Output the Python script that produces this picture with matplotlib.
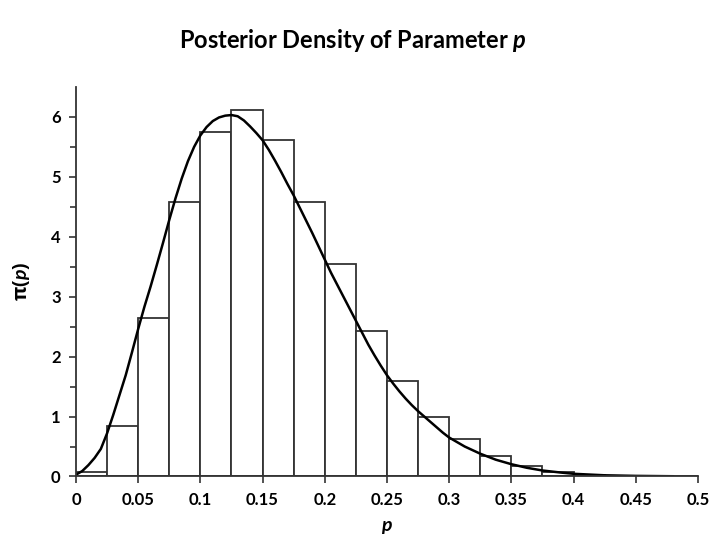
import numpy as np
import matplotlib
matplotlib.use("Agg")
import matplotlib.pyplot as plt

plt.rcParams['font.family'] = ['Lato', 'DejaVu Sans']
plt.rcParams['font.weight'] = 'bold'
plt.rcParams['mathtext.fontset'] = 'custom'
plt.rcParams['mathtext.it'] = 'Lato:italic:bold'
plt.rcParams['mathtext.rm'] = 'Lato:bold'

# histogram bins (left edges) and heights
bin_left = [0.0, 0.025, 0.05, 0.075, 0.1, 0.125, 0.15, 0.175, 0.2, 0.225,
            0.25, 0.275, 0.3, 0.325, 0.35, 0.375, 0.4, 0.425, 0.45, 0.475]
bin_height = [0.07, 0.85, 2.64, 4.58, 5.74, 6.11, 5.61, 4.58, 3.54, 2.42,
              1.59, 1.0, 0.62, 0.34, 0.18, 0.07, 0.03, 0.015, 0.006, 0.003]
bin_width = 0.025

# density curve
curve_p = [0.0, 0.005, 0.01, 0.015, 0.02, 0.025, 0.03, 0.035, 0.04, 0.045,
           0.05, 0.055, 0.06, 0.065, 0.07, 0.075, 0.08, 0.085, 0.09, 0.095,
           0.1, 0.105, 0.11, 0.115, 0.12, 0.125, 0.13, 0.135, 0.14, 0.145,
           0.15, 0.155, 0.16, 0.165, 0.17, 0.175, 0.18, 0.185, 0.19, 0.195,
           0.2, 0.205, 0.21, 0.215, 0.22, 0.225, 0.23, 0.235, 0.24, 0.245,
           0.25, 0.255, 0.26, 0.265, 0.27, 0.275, 0.28, 0.285, 0.29, 0.295,
           0.3, 0.3125, 0.325, 0.3375, 0.35, 0.3625, 0.375, 0.39, 0.4,
           0.425, 0.45, 0.48]
curve_f = [0.03, 0.09, 0.19, 0.31, 0.46, 0.72, 1.03, 1.36, 1.69, 2.07,
           2.46, 2.83, 3.17, 3.53, 3.90, 4.28, 4.64, 4.97, 5.26, 5.50,
           5.69, 5.83, 5.93, 5.99, 6.02, 6.03, 6.01, 5.94, 5.84, 5.73,
           5.61, 5.45, 5.27, 5.08, 4.88, 4.69, 4.48, 4.27, 4.06, 3.84,
           3.62, 3.40, 3.20, 3.00, 2.80, 2.60, 2.40, 2.20, 2.02, 1.85,
           1.69, 1.55, 1.42, 1.30, 1.19, 1.09, 1.00, 0.91, 0.82, 0.73,
           0.65, 0.50, 0.38, 0.28, 0.205, 0.145, 0.10, 0.065, 0.045,
           0.02, 0.01, 0.004]

fig = plt.figure(figsize=(7.1, 5.43), dpi=100)
ax = fig.add_axes([0.107, 0.1225, 0.876, 0.7175])

ax.bar(bin_left, bin_height, width=bin_width, align='edge',
       color='white', edgecolor='#333333', linewidth=1.3)
ax.plot(curve_p, curve_f, color='black', linewidth=1.8)

ax.set_xlim(0, 0.5)
ax.set_ylim(0, 6.5)
ax.set_xticks(np.arange(0, 0.51, 0.05))
ax.set_xticklabels(['0', '0.05', '0.1', '0.15', '0.2', '0.25', '0.3',
                    '0.35', '0.4', '0.45', '0.5'])
ax.set_yticks(range(0, 7))
ax.set_yticks(np.arange(0.5, 6.5, 1.0), minor=True)
ax.tick_params(axis='both', which='major', labelsize=12, length=5,
               width=1.2, color='#333333', pad=6)
ax.tick_params(axis='y', which='minor', length=4, width=1.2, color='#333333')
for s in ['top', 'right']:
    ax.spines[s].set_visible(False)
for s in ['left', 'bottom']:
    ax.spines[s].set_linewidth(1.3)
    ax.spines[s].set_color('#333333')

ax.set_xlabel('$p$', fontsize=14, labelpad=8)
ax.set_ylabel('π($p$)', fontsize=14, labelpad=14,
              family=['Open Sans', 'DejaVu Sans'], fontweight='bold')

fig.text(0.497, 0.925, 'Posterior Density of Parameter $p$', ha='center',
         va='center', fontsize=17, fontweight='bold')

fig.savefig('out.png', dpi=100)
